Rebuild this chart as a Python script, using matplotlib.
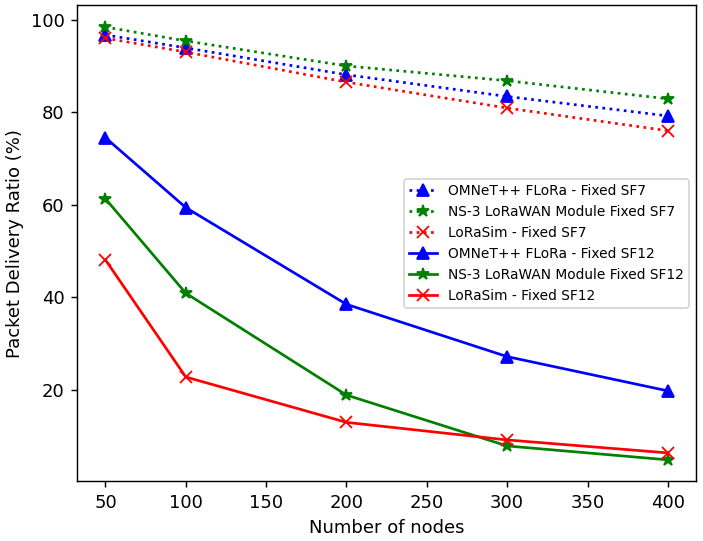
import numpy as np
import matplotlib.pyplot as plt

# 数据
nodes = [50, 100, 200, 300, 400]

omnet_sf7 = [96.7, 93.9, 88.1, 83.4, 79.2]
ns3_sf7 = [98.4, 95.4, 90.0, 86.8, 82.9]
lorasim_sf7 = [96.0, 93.0, 86.5, 80.9, 76.0]

omnet_sf12 = [74.5, 59.4, 38.5, 27.2, 19.8]
ns3_sf12 = [61.3, 40.9, 18.9, 7.9, 4.9]
lorasim_sf12 = [48.1, 22.8, 13.0, 9.2, 6.4]

fig, ax = plt.subplots(figsize=(703 / 130, 541 / 130), dpi=130)

# SF7 虚线
ax.plot(nodes, omnet_sf7, 'b:^', markersize=7, label='OMNeT++ FLoRa - Fixed SF7')
ax.plot(nodes, ns3_sf7, 'g:*', markersize=7, label='NS-3 LoRaWAN Module Fixed SF7')
ax.plot(nodes, lorasim_sf7, 'r:x', markersize=7, label='LoRaSim - Fixed SF7')

# SF12 实线
ax.plot(nodes, omnet_sf12, 'b-^', markersize=7, label='OMNeT++ FLoRa - Fixed SF12')
ax.plot(nodes, ns3_sf12, 'g-*', markersize=7, label='NS-3 LoRaWAN Module Fixed SF12')
ax.plot(nodes, lorasim_sf12, 'r-x', markersize=7, label='LoRaSim - Fixed SF12')

ax.set_xlabel('Number of nodes')
ax.set_ylabel('Packet Delivery Ratio (%)')
ax.set_xticks([50, 100, 150, 200, 250, 300, 350, 400])
ax.set_yticks([20, 40, 60, 80, 100])
ax.legend(loc='center right', fontsize=7.6)

plt.subplots_adjust(left=0.11, right=0.99, top=0.99, bottom=0.11)
plt.savefig('out.png')
